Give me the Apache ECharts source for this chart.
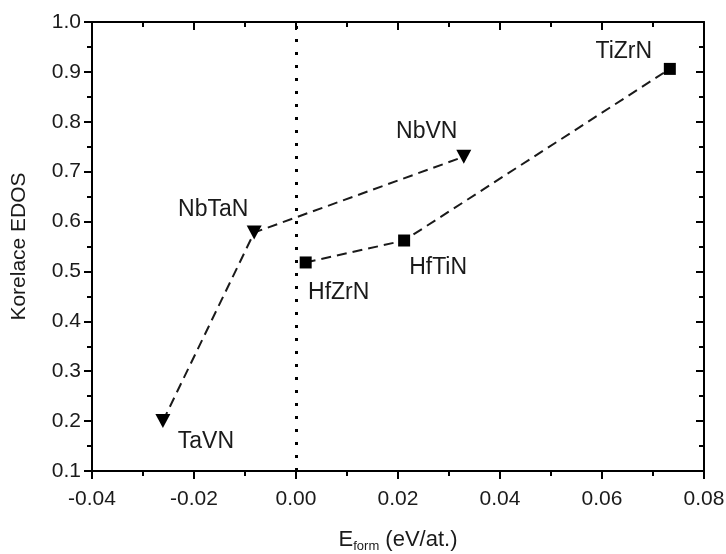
<!DOCTYPE html>
<html>
<head>
<meta charset="utf-8">
<script src="https://cdn.jsdelivr.net/npm/echarts@6/dist/echarts.min.js"></script>
<style>
  html, body { margin: 0; padding: 0; background: #fff; }
  #chart { width: 726px; height: 554px; }
</style>
</head>
<body>
<div id="chart"></div>
<script>
// triangles (down) series
const triNames = ["TaVN", "NbTaN", "NbVN"];
const triX = [-0.0261, -0.0082, 0.0329];
const triY = [0.200, 0.578, 0.730];

// squares series
const sqNames = ["HfZrN", "HfTiN", "TiZrN"];
const sqX = [0.0019, 0.0212, 0.0733];
const sqY = [0.518, 0.562, 0.906];

// label offsets (px) relative to each point
const triOffsets = [[43, 21], [-41, -23], [-37, -25]];
const sqOffsets = [[33, 30], [34, 27], [-46, -17]];

const font = "Liberation Sans, Arial, sans-serif";
const textColor = "#1a1a1a";

function makeData(xs, ys, names, offsets) {
  return xs.map((x, i) => ({
    value: [x, ys[i]],
    name: names[i],
    label: { offset: offsets[i] },
  }));
}

const chart = echarts.init(document.getElementById("chart"), null, {
  renderer: "canvas",
});

const axisLine = { show: true, onZero: false, lineStyle: { color: "#000", width: 2 } };
const tick = (inside) => ({ show: true, inside: inside, length: 8, lineStyle: { color: "#000", width: 2 } });
const minor = { show: true, splitNumber: 2, length: 5, lineStyle: { color: "#000", width: 2 } };

const option = {
  animation: false,
  backgroundColor: "#fff",
  grid: { left: 92, right: 22, top: 22, bottom: 83, outerBoundsMode: "none", containLabel: false },
  xAxis: [
    {
      type: "value",
      position: "bottom",
      min: -0.04,
      max: 0.08,
      interval: 0.02,
      axisLine: axisLine,
      axisTick: tick(false),
      minorTick: minor,
      splitLine: { show: false },
      axisLabel: {
        color: textColor,
        fontSize: 21,
        fontFamily: font,
        margin: 18,
        formatter: (v) => v.toFixed(2),
      },
      name: "{e|E}{s|form} (eV/at.)",
      nameLocation: "middle",
      nameGap: 55,
      nameTextStyle: {
        color: textColor,
        fontSize: 22,
        fontFamily: font,
        rich: {
          e: { fontSize: 22, fontFamily: font, color: textColor },
          s: { fontSize: 13, fontFamily: font, color: textColor, padding: [14, 0, 0, 0] },
        },
      },
    },
    {
      type: "value",
      position: "top",
      min: -0.04,
      max: 0.08,
      interval: 0.02,
      axisLine: axisLine,
      axisTick: tick(true),
      minorTick: minor,
      splitLine: { show: false },
      axisLabel: { show: false },
    },
  ],
  yAxis: [
    {
      type: "value",
      position: "left",
      min: 0.1,
      max: 1.0,
      interval: 0.1,
      axisLine: axisLine,
      axisTick: tick(false),
      minorTick: minor,
      splitLine: { show: false },
      axisLabel: {
        color: textColor,
        fontSize: 21,
        fontFamily: font,
        margin: 11,
        formatter: (v) => v.toFixed(1),
      },
      name: "Korelace EDOS",
      nameLocation: "middle",
      nameGap: 62,
      nameTextStyle: { color: textColor, fontSize: 21, fontFamily: font },
    },
    {
      type: "value",
      position: "right",
      min: 0.1,
      max: 1.0,
      interval: 0.1,
      axisLine: axisLine,
      axisTick: tick(true),
      minorTick: minor,
      splitLine: { show: false },
      axisLabel: { show: false },
    },
  ],
  series: [
    {
      name: "triangles",
      type: "line",
      xAxisIndex: 0,
      yAxisIndex: 0,
      symbol: "triangle",
      symbolRotate: 180,
      symbolSize: [15, 14],
      itemStyle: { color: "#000" },
      lineStyle: { color: "#1a1a1a", width: 2, type: [10, 6] },
      label: {
        show: true,
        position: "inside",
        formatter: (p) => p.name,
        color: textColor,
        fontSize: 23,
        fontFamily: font,
      },
      data: makeData(triX, triY, triNames, triOffsets),
      markLine: {
        silent: true,
        symbol: "none",
        label: { show: false },
        lineStyle: { color: "#000", width: 3, type: [3, 10] },
        data: [{ xAxis: 0 }],
      },
      z: 3,
    },
    {
      name: "squares",
      type: "line",
      xAxisIndex: 0,
      yAxisIndex: 0,
      symbol: "rect",
      symbolSize: 12,
      itemStyle: { color: "#000" },
      lineStyle: { color: "#1a1a1a", width: 2, type: [10, 6] },
      label: {
        show: true,
        position: "inside",
        formatter: (p) => p.name,
        color: textColor,
        fontSize: 23,
        fontFamily: font,
      },
      data: makeData(sqX, sqY, sqNames, sqOffsets),
      z: 3,
    },
  ],
};

chart.setOption(option);
</script>
</body>
</html>
